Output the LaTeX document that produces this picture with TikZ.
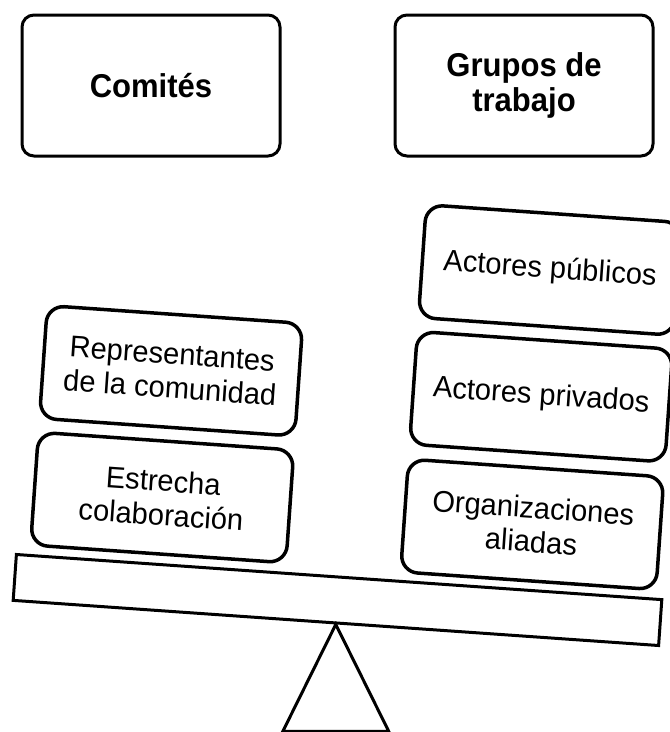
\documentclass[tikz,border=0pt]{standalone}
\usepackage{fontspec}
\setmainfont{Liberation Sans}
\newfontfamily\headfont[FakeStretch=0.94]{Liberation Sans}
\newfontfamily\brickfont[FakeStretch=0.97]{Liberation Sans}
\usetikzlibrary{positioning}
\tikzset{
  head/.style  = {draw, line width=3pt, rounded corners=12pt, minimum width=258pt,
                  minimum height=141pt, inner sep=0pt, align=center,
                  font=\headfont\fontsize{33}{35}\selectfont\bfseries},
  brick/.style = {draw, line width=3.5pt, rounded corners=17pt, fill=white,
                  minimum width=256pt, minimum height=113pt, inner sep=0pt, align=center,
                  font=\brickfont\fontsize{30}{34}\selectfont},
  plank/.style = {draw, line width=3pt, fill=white, minimum width=647pt,
                  minimum height=46pt, inner sep=0pt},
  stand/.style = {draw, line width=3pt, line join=miter},
}

\begin{document}
\begin{tikzpicture}[x=1pt,y=-1pt]
\useasboundingbox (0,0) rectangle (670,732);

% ------------------------------------------------------------------ top
\node[head] (comites) at (151,85.5) {Comités};
\node[head] (grupos)  at (524,85.5) {Grupos de\\trabajo};

% ------------------------------------------------------------------ balance
\begin{scope}[shift={(337.5,600)}, rotate=-4, transform shape]
\node[plank] (beam) at (0,0) {};
\node[brick] (estrecha) at (-182,-90)  {Estrecha\\colaboración};
\node[brick] (repres)   at (-182,-217) {Representantes\\de la comunidad};
\node[brick] (aliadas)  at (189,-89)   {Organizaciones\\aliadas};
\node[brick] (privados) at (189,-217)  {Actores privados};
\node[brick] (publicos) at (189,-344)  {Actores públicos};
\end{scope}

\draw[stand] (beam.south) -- ++(-53,107) -- ++(106,0) -- cycle;

\end{tikzpicture}
\end{document}
